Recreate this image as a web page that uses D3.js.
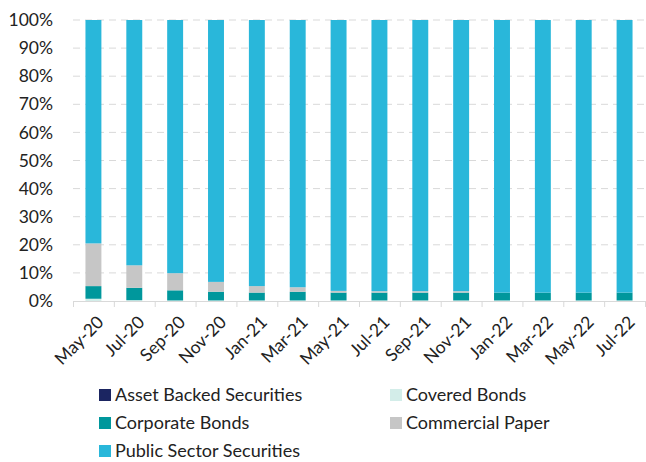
<!DOCTYPE html>
<html>
<head>
<meta charset="utf-8">
<script src="https://cdn.jsdelivr.net/npm/d3@7"></script>
<style>
  html, body { margin: 0; padding: 0; background: #fff; }
  svg { display: block; font-family: Lato, "Open Sans", sans-serif; }
</style>
</head>
<body>
<svg id="chart" width="646" height="462"></svg>
<script>
// --- data (percent of holdings) ---
const months     = ["May-20","Jul-20","Sep-20","Nov-20","Jan-21","Mar-21","May-21",
                    "Jul-21","Sep-21","Nov-21","Jan-22","Mar-22","May-22","Jul-22"];
const assetBacked = [0,0,0,0,0,0,0,0,0,0,0,0,0,0];
const covered     = [0.8,0.3,0.2,0.2,0.2,0.2,0.2,0.2,0.2,0.2,0.2,0.2,0.2,0.2];
const corporate   = [4.5,4.4,3.6,3.1,2.8,3.1,2.8,2.8,2.8,2.8,2.8,2.8,2.8,2.8];
const commercial  = [15.2,8.0,6.1,3.5,2.3,1.6,0.6,0.5,0.5,0.5,0,0,0,0];
const publicSec   = [79.5,87.3,90.1,93.2,94.7,95.1,96.4,96.5,96.5,96.5,97.0,97.0,97.0,97.0];
const yTicks      = [0,10,20,30,40,50,60,70,80,90,100];

const series = [
  { key: "abs",  label: "Asset Backed Securities", color: "#1b2561", values: assetBacked },
  { key: "cov",  label: "Covered Bonds",           color: "#d3ede9", values: covered },
  { key: "corp", label: "Corporate Bonds",         color: "#00979c", values: corporate },
  { key: "cp",   label: "Commercial Paper",        color: "#c6c6c6", values: commercial },
  { key: "pub",  label: "Public Sector Securities",color: "#29b7da", values: publicSec }
];

// table for d3.stack
const rows = months.map((m, i) => {
  const r = { month: m };
  series.forEach(s => r[s.key] = s.values[i]);
  return r;
});

const svg = d3.select("#chart");
const plot = { left: 73, right: 645, top: 20, bottom: 301 };
const fontSize = 17.5;

const x = d3.scaleBand().domain(months).range([plot.left, plot.right]).paddingInner(0.61).paddingOuter(0.305);
const xTick = d3.scalePoint().domain(d3.range(months.length + 1)).range([plot.left, plot.right]);
const y = d3.scaleLinear().domain([0, 100]).range([plot.bottom, plot.top]);

// gridlines
svg.append("g").selectAll("line")
  .data(yTicks.filter(t => t > 0))
  .enter().append("line")
  .attr("x1", plot.left).attr("x2", plot.right)
  .attr("y1", d => y(d)).attr("y2", d => y(d))
  .attr("stroke", "#d9d9d9").attr("stroke-width", 1)
  .attr("stroke-dasharray", "7,5");

// y labels
svg.append("g").selectAll("text")
  .data(yTicks)
  .enter().append("text")
  .attr("x", 53).attr("y", d => y(d))
  .attr("dy", "0.35em")
  .attr("text-anchor", "end")
  .attr("font-size", fontSize)
  .attr("fill", "#222")
  .text(d => d + "%");

// stacked bars
const stack = d3.stack().keys(series.map(s => s.key));
const layers = stack(rows);

svg.append("g").selectAll("g")
  .data(layers)
  .enter().append("g")
  .attr("fill", (d, i) => series[i].color)
  .selectAll("rect")
  .data(d => d)
  .enter().append("rect")
  .attr("x", d => x(d.data.month))
  .attr("width", x.bandwidth())
  .attr("y", d => y(d[1]))
  .attr("height", d => Math.max(0, y(d[0]) - y(d[1])));

// x axis line + ticks between categories
const axis = svg.append("g");
axis.append("line")
  .attr("x1", plot.left).attr("x2", plot.right)
  .attr("y1", plot.bottom + 0.5).attr("y2", plot.bottom + 0.5)
  .attr("stroke", "#d9d9d9");
axis.selectAll(".tk")
  .data(d3.range(months.length + 1))
  .enter().append("line")
  .attr("class", "tk")
  .attr("x1", d => xTick(d) + 0.5).attr("x2", d => xTick(d) + 0.5)
  .attr("y1", plot.bottom).attr("y2", plot.bottom + 6)
  .attr("stroke", "#d9d9d9");

// x labels rotated
svg.append("g").selectAll("text")
  .data(months)
  .enter().append("text")
  .attr("transform", d => `translate(${x(d) + x.bandwidth() / 2 + 7},${plot.bottom + 18}) rotate(-45)`)
  .attr("text-anchor", "end")
  .attr("dy", "0.35em")
  .attr("font-size", fontSize)
  .attr("fill", "#222")
  .text(d => d);

// legend
const legend = svg.append("g");
const legendPos = [
  { x: 99,  y: 395 }, { x: 390, y: 395 },
  { x: 99,  y: 423 }, { x: 390, y: 423 },
  { x: 99,  y: 451 }
];
const items = legend.selectAll("g")
  .data(series)
  .enter().append("g")
  .attr("transform", (d, i) => `translate(${legendPos[i].x},${legendPos[i].y})`);
items.append("rect")
  .attr("x", 0).attr("y", -6).attr("width", 12).attr("height", 12)
  .attr("fill", d => d.color);
items.append("text")
  .attr("x", 16).attr("y", 0).attr("dy", "0.35em")
  .attr("font-size", 18)
  .attr("fill", "#222")
  .text(d => d.label);
</script>
</body>
</html>
